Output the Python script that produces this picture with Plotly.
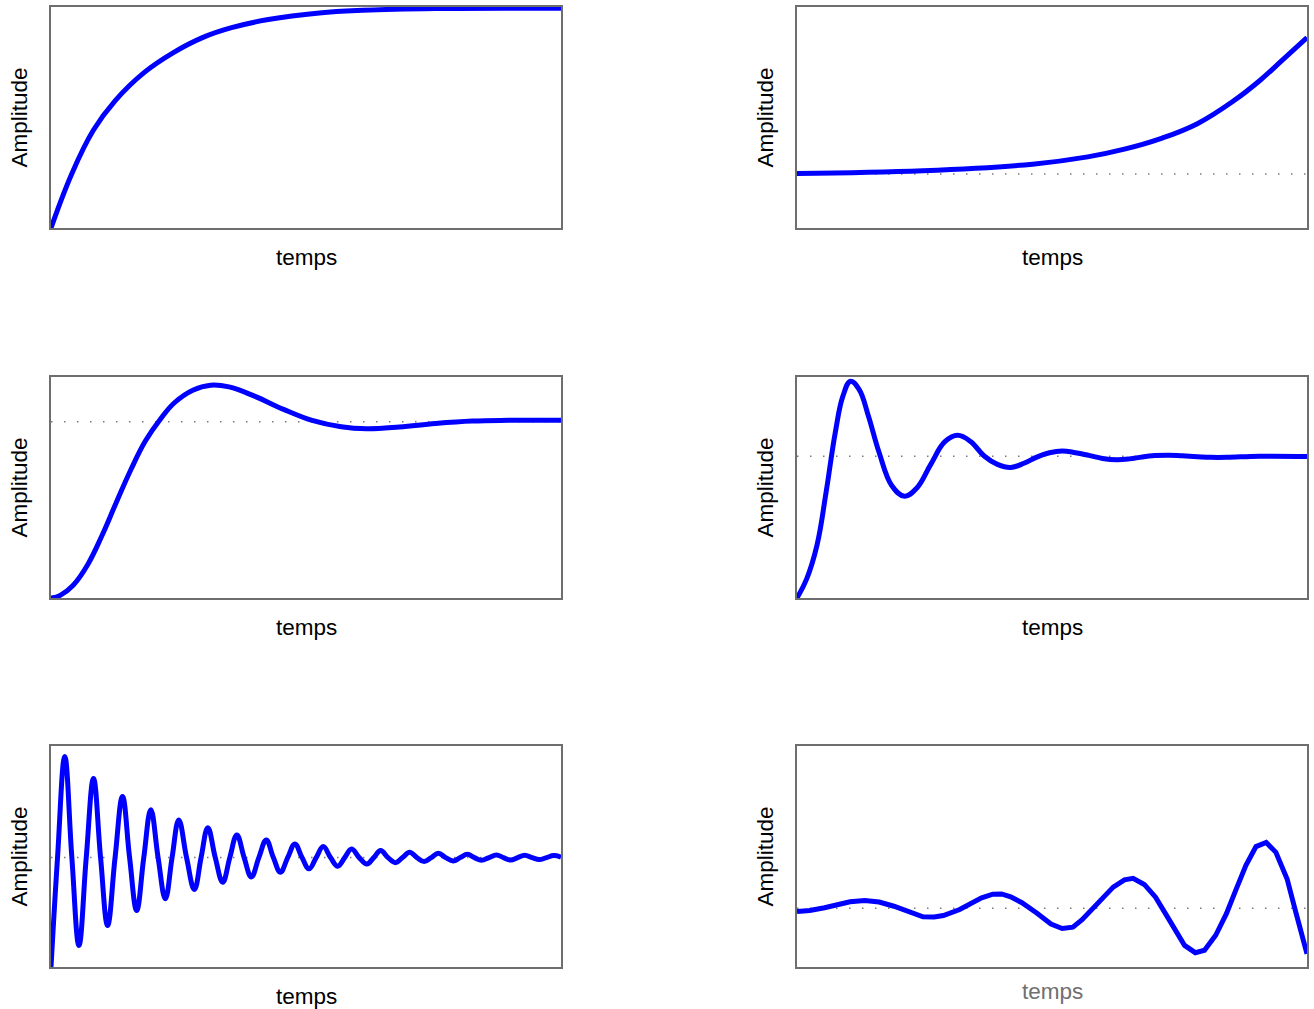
import plotly.graph_objects as go

# ---------------- data (time normalised 0..10, amplitude normalised 0..1) ----------------
# 1) first order response
t1 = [0, 0.41, 0.83, 1.26, 1.83, 2.40, 2.97, 3.54, 4.26, 5.26, 6.11, 7.54, 10.0]
y1 = [0, 0.248, 0.444, 0.579, 0.707, 0.797, 0.865, 0.910, 0.947, 0.977, 0.989, 0.997, 0.998]
ss1 = None  # steady state lies on the frame, no visible guide

# 2) unstable (diverging exponential)
t2 = [0, 2.47, 4.62, 5.70, 6.42, 7.13, 7.85, 8.57, 9.07, 9.50, 10.0]
y2 = [0.248, 0.260, 0.290, 0.323, 0.358, 0.406, 0.474, 0.579, 0.669, 0.759, 0.865]
ss2 = 0.245

# 3) second order, weak overshoot
t3 = [0, 0.18, 0.43, 0.71, 1.00, 1.28, 1.57, 1.85, 2.14, 2.42, 2.78, 3.13, 3.49,
      3.99, 4.56, 5.12, 5.69, 6.19, 6.83, 7.54, 8.26, 8.97, 10.0]
y3 = [0, 0.012, 0.057, 0.148, 0.284, 0.434, 0.585, 0.713, 0.811, 0.887, 0.944, 0.967, 0.959,
      0.917, 0.857, 0.807, 0.778, 0.769, 0.777, 0.793, 0.804, 0.807, 0.807]
ss3 = 0.801

# 4) second order, oscillating
t4 = [0, 0.19, 0.39, 0.57, 0.75, 0.90, 1.05, 1.22, 1.40, 1.61, 1.86, 2.11, 2.35, 2.62, 2.90,
      3.15, 3.41, 3.67, 3.93, 4.19, 4.45, 4.70, 4.95, 5.20, 5.46, 5.72, 5.99, 6.27, 6.52,
      6.77, 7.02, 7.28, 7.55, 7.85, 8.12, 8.42, 9.07, 10.0]
y4 = [0, 0.087, 0.238, 0.480, 0.751, 0.917, 0.985, 0.947, 0.827, 0.661, 0.510, 0.462, 0.500, 0.606, 0.710,
      0.739, 0.710, 0.645, 0.607, 0.593, 0.612, 0.640, 0.660, 0.668, 0.660, 0.648, 0.634, 0.628, 0.632,
      0.641, 0.647, 0.649, 0.646, 0.642, 0.639, 0.639, 0.644, 0.643]
ss4 = 0.644

# 5) lightly damped oscillation: start, crossings, peaks and troughs
t5 = [0.0, 0.128, 0.270, 0.409, 0.548, 0.691, 0.833, 0.972, 1.110, 1.256, 1.402, 1.541, 1.680,
      1.819, 1.957, 2.100, 2.242, 2.374, 2.505, 2.658, 2.811, 2.943, 3.075, 3.221, 3.367, 3.506,
      3.644, 3.787, 3.929, 4.075, 4.221, 4.360, 4.498, 4.641, 4.783, 4.922, 5.060, 5.199, 5.338,
      5.481, 5.623, 5.758, 5.893, 6.043, 6.192, 6.328, 6.463, 6.609, 6.754, 6.893, 7.032, 7.175,
      7.317, 7.456, 7.594, 7.740, 7.886, 8.025, 8.164, 8.303, 8.441, 8.587, 8.733, 8.872, 9.011,
      9.150, 9.288, 9.431, 9.573, 9.716, 9.858, 10.0]
y5 = [0.0, 0.497, 0.956, 0.497, 0.098, 0.497, 0.856, 0.497, 0.189, 0.497, 0.775, 0.497, 0.257,
      0.497, 0.714, 0.497, 0.310, 0.497, 0.668, 0.497, 0.352, 0.497, 0.633, 0.497, 0.385, 0.497,
      0.600, 0.497, 0.409, 0.497, 0.577, 0.497, 0.431, 0.497, 0.559, 0.497, 0.446, 0.497, 0.547,
      0.497, 0.458, 0.497, 0.536, 0.497, 0.468, 0.497, 0.529, 0.497, 0.474, 0.497, 0.521, 0.497,
      0.479, 0.497, 0.517, 0.497, 0.482, 0.497, 0.512, 0.497, 0.485, 0.497, 0.509, 0.497, 0.486,
      0.497, 0.508, 0.497, 0.488, 0.497, 0.506, 0.499]
ss5 = 0.497

# 6) unstable oscillation (coarsely sampled)
t6 = [0, 0.25, 0.54, 0.82, 1.04, 1.33, 1.61, 1.90, 2.26, 2.47, 2.69, 2.87, 3.19, 3.62, 3.84,
      4.01, 4.19, 4.41, 4.70, 4.98, 5.20, 5.41, 5.59, 5.91, 6.20, 6.42, 6.59, 6.81, 7.03,
      7.24, 7.42, 7.60, 7.81, 7.99, 8.21, 8.42, 8.60, 8.80, 9.00, 9.20, 9.39, 9.61, 9.78, 10.0]
y6 = [0.252, 0.257, 0.269, 0.287, 0.296, 0.302, 0.295, 0.276, 0.243, 0.228, 0.227, 0.234, 0.261,
      0.314, 0.331, 0.332, 0.319, 0.292, 0.245, 0.195, 0.175, 0.181, 0.215, 0.295, 0.363, 0.396,
      0.403, 0.375, 0.317, 0.237, 0.162, 0.098, 0.065, 0.076, 0.144, 0.242, 0.347, 0.461, 0.547,
      0.566, 0.521, 0.400, 0.249, 0.060]
ss6 = 0.267

series = [
    (t1, y1, ss1, "spline"),
    (t2, y2, ss2, "spline"),
    (t3, y3, ss3, "spline"),
    (t4, y4, ss4, "spline"),
    (t5, y5, ss5, "spline"),
    (t6, y6, ss6, "linear"),
]

# ---------------- layout ----------------
W, H = 1314, 1009
col_px = [(51, 561), (797, 1307)]
row_px = [(7, 228), (377, 598), (746, 967)]

fig = go.Figure()
layout = dict(
    width=W, height=H, margin=dict(l=0, r=0, t=0, b=0),
    paper_bgcolor="white", plot_bgcolor="white", showlegend=False,
)
font = dict(family="Liberation Sans, Arial, sans-serif", size=22.5, color="black")
annotations = []

for k, (tx, ty, ss, shape) in enumerate(series):
    r, c = divmod(k, 2)
    n = k + 1
    xa = "x" if n == 1 else f"x{n}"
    ya = "y" if n == 1 else f"y{n}"
    x0, x1 = col_px[c]
    y0, y1p = row_px[r]
    axis_common = dict(showgrid=False, zeroline=False, showticklabels=False, ticks="",
                       showline=True, mirror=True, linecolor="#6e6e6e", linewidth=1.6,
                       fixedrange=True)
    layout["xaxis" if n == 1 else f"xaxis{n}"] = dict(
        domain=[x0 / W, x1 / W], range=[0, 10], anchor=ya, **axis_common)
    layout["yaxis" if n == 1 else f"yaxis{n}"] = dict(
        domain=[1 - y1p / H, 1 - y0 / H], range=[0, 1.004], anchor=xa, **axis_common)

    if ss is not None:
        fig.add_trace(go.Scatter(x=[0, 10], y=[ss, ss], mode="lines", xaxis=xa, yaxis=ya,
                                 line=dict(color="#7a7a7a", width=1.5, dash="1.5px,11.5px"),
                                 hoverinfo="skip"))
    line = dict(color="#0000ff", width=5, shape=shape)
    if shape == "spline":
        line["smoothing"] = 1.15
    fig.add_trace(go.Scatter(x=tx, y=ty, mode="lines", xaxis=xa, yaxis=ya, line=line))

    xc = (x0 + x1) / 2 / W
    yc = 1 - (y0 + y1p) / 2 / H
    amp_x = (x0 - 32) / W
    temps_y = 1 - (y1p + 29) / H
    temps_color = "black"
    if k == 5:
        temps_y = 1 - (y1p + 24) / H
        temps_color = "#707070"
    annotations.append(dict(text="Amplitude", x=amp_x, y=yc, xref="paper", yref="paper",
                            textangle=-90, showarrow=False, xanchor="center", yanchor="middle",
                            font=font))
    annotations.append(dict(text="temps", x=xc, y=temps_y, xref="paper", yref="paper",
                            showarrow=False, xanchor="center", yanchor="middle",
                            font=dict(font, color=temps_color)))

layout["annotations"] = annotations
fig.update_layout(**layout)
fig.write_html("out.html", config={"displayModeBar": False},
               post_script="document.body.style.margin='0';document.body.style.overflow='hidden';")
